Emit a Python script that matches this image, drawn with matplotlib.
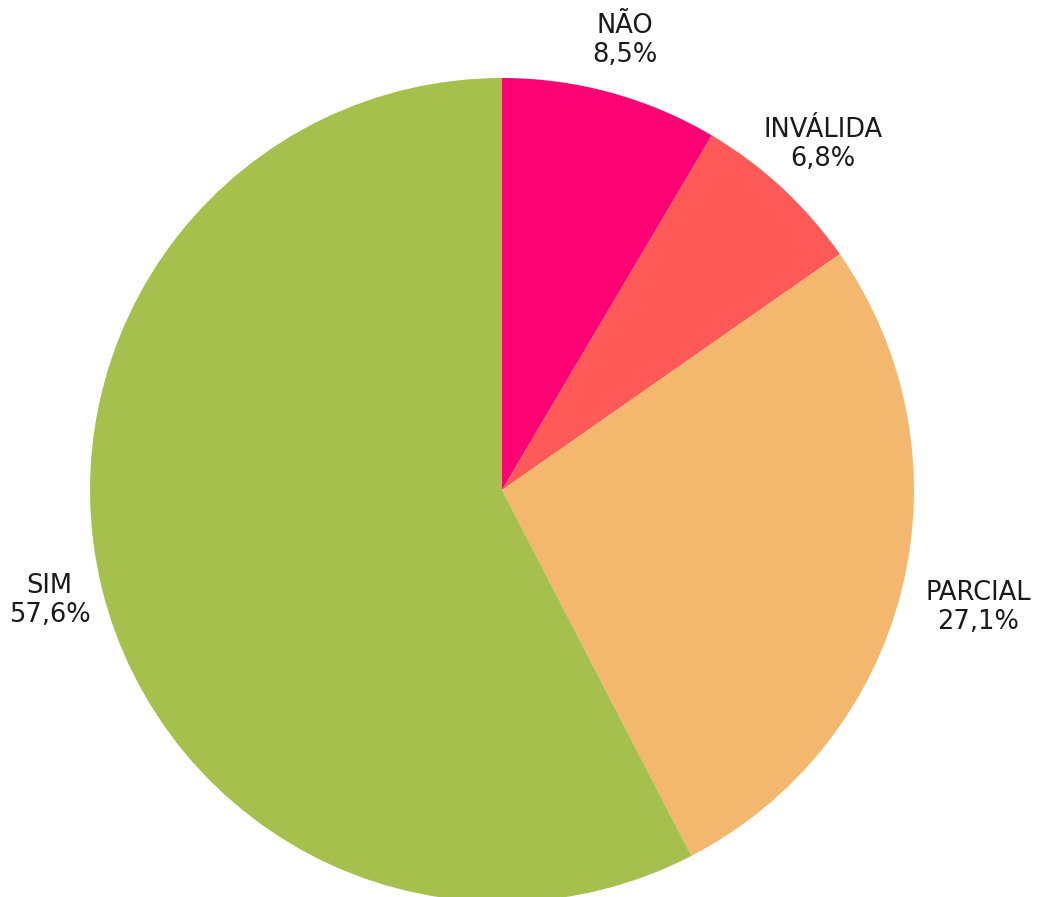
import numpy as np
import matplotlib
matplotlib.use('Agg')
import matplotlib.pyplot as plt

# Answer categories and shares (%), clockwise from 12 o'clock
categories = ['NÃO', 'INVÁLIDA', 'PARCIAL', 'SIM']
shares = [8.5, 6.8, 27.1, 57.6]
colors = ['#FC0273', '#FF5A58', '#F3B86E', '#A5C04C']
label_dist = [1.13, 1.145, 1.19, 1.13]

plt.rcParams['font.family'] = ['DejaVu Sans']

fig = plt.figure(figsize=(10.45, 8.97), dpi=100)
ax = fig.add_axes([0, 0, 1, 1])

R = 412
cx, cy = 502, 897 - 490
wedges, _ = ax.pie(shares, colors=colors, startangle=90, counterclock=False,
                   radius=R, center=(cx, cy), frame=True,
                   wedgeprops=dict(linewidth=0))
ax.set_xlim(0, 1045)
ax.set_ylim(0, 897)
ax.set_aspect('equal')
ax.axis('off')

for w, cat, val, d in zip(wedges, categories, shares, label_dist):
    th = np.deg2rad((w.theta1 + w.theta2) / 2)
    x = cx + d * R * np.cos(th)
    y = cy + d * R * np.sin(th)
    ax.text(x, y, f'{cat}\n{val:.1f}%'.replace('.', ','), ha='center', va='center',
            fontsize=18.5, color='#1a1a1a', linespacing=1.15)

fig.savefig('out.png', dpi=100)
